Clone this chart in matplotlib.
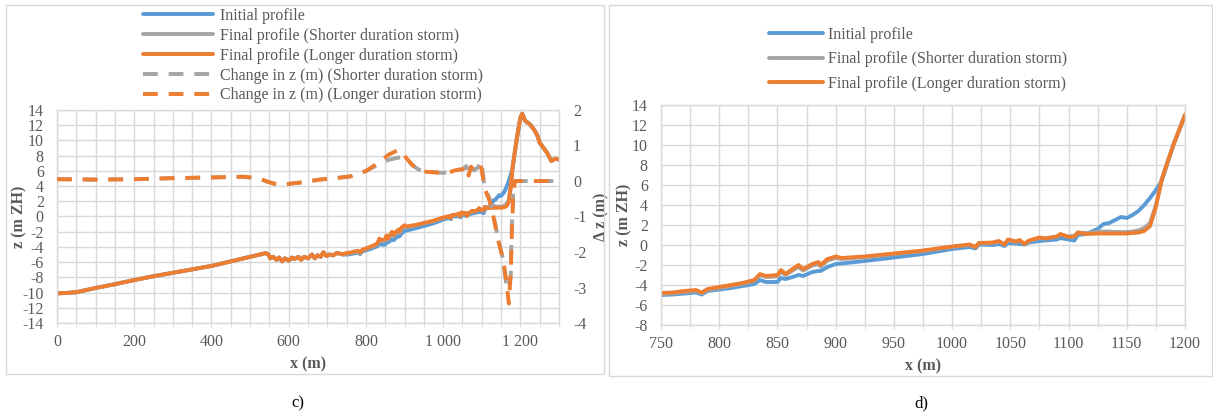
import matplotlib
matplotlib.use("Agg")
import matplotlib.pyplot as plt
from matplotlib.patches import Rectangle
from matplotlib.ticker import MultipleLocator

plt.rcParams['font.family'] = ['Liberation Serif', 'DejaVu Serif']
plt.rcParams['axes.unicode_minus'] = False

# ---------------- data ----------------
x_prof = [0, 25, 50, 100, 150, 200, 250, 300, 350, 400, 450, 500, 530, 540, 548, 552, 560,
          568, 575, 583, 590, 600, 608, 615, 625, 632, 640, 650, 660, 668, 675, 683, 690,
          698, 705, 715, 725, 740, 750, 760, 770, 780, 785, 790, 800, 810, 820, 830, 835,
          840, 850, 853, 857, 863, 868, 872, 880, 885, 887, 893, 900, 905, 925, 950, 975,
          1000, 1015, 1020, 1023, 1035, 1040, 1045, 1048, 1055, 1058, 1062, 1066, 1075,
          1080, 1090, 1093, 1100, 1105, 1108, 1115, 1125, 1130, 1135, 1140, 1145, 1150,
          1155, 1160, 1165, 1170, 1175, 1180, 1185, 1190, 1195, 1200, 1205, 1212, 1225,
          1237, 1245, 1250, 1260, 1270, 1280, 1290, 1300]

z_initial = [-10.1, -10.05, -9.95, -9.4, -8.9, -8.35, -7.85, -7.4, -6.95, -6.5, -5.9, -5.3,
             -4.95, -4.8, -5.0, -5.5, -5.3, -5.7, -5.4, -5.9, -5.5, -5.8, -5.4, -5.6, -5.3,
             -5.7, -5.3, -5.5, -5.0, -5.5, -5.1, -5.3, -4.7, -5.2, -5.0, -5.1, -4.8, -5.0,
             -5.0, -4.95, -4.85, -4.75, -4.95, -4.6, -4.45, -4.3, -4.1, -3.9, -3.5, -3.7,
             -3.7, -3.3, -3.4, -3.2, -3.0, -3.1, -2.7, -2.6, -2.6, -2.2, -1.9, -1.85, -1.6,
             -1.25, -0.9, -0.4, -0.2, -0.35, 0.05, 0.0, 0.1, -0.1, 0.2, 0.15, 0.1, 0.05,
             0.25, 0.4, 0.45, 0.55, 0.7, 0.55, 0.45, 1.0, 1.1, 1.6, 2.1, 2.2, 2.5, 2.8, 2.7,
             3.0, 3.4, 4.0, 4.7, 5.5, 6.4, 8.2, 10.0, 11.5, 13.0, 13.5, 12.6, 12.1, 11.3,
             10.5, 9.7, 9.0, 8.3, 7.3, 7.6, 7.5]

z_final_short = [-10.1, -10.05, -9.95, -9.4, -8.9, -8.35, -7.85, -7.4, -6.95, -6.5, -5.9,
                 -5.3, -4.95, -4.8, -5.0, -5.5, -5.3, -5.7, -5.4, -5.9, -5.5, -5.8, -5.4,
                 -5.6, -5.3, -5.7, -5.3, -5.5, -5.0, -5.5, -5.1, -5.3, -4.7, -5.2, -5.0,
                 -5.1, -4.8, -5.0, -4.9, -4.85, -4.7, -4.6, -4.85, -4.5, -4.3, -4.1, -3.9,
                 -3.6, -3.0, -3.2, -3.15, -2.7, -3.0, -2.55, -2.2, -2.55, -2.05, -1.9, -2.15,
                 -1.55, -1.3, -1.4, -1.2, -0.9, -0.6, -0.2, 0.0, -0.2, 0.15, 0.2, 0.35, 0.05,
                 0.5, 0.3, 0.45, 0.1, 0.4, 0.7, 0.65, 0.85, 1.05, 0.85, 0.9, 1.25, 1.2, 1.3,
                 1.35, 1.35, 1.3, 1.3, 1.3, 1.35, 1.45, 1.7, 2.2, 4.0, 6.6, 8.3, 10.0, 11.5,
                 13.0, 13.5, 12.6, 12.1, 11.3, 10.5, 9.7, 9.0, 8.3, 7.3, 7.6, 7.5]

z_final_long = [-10.1, -10.05, -9.95, -9.4, -8.9, -8.35, -7.85, -7.4, -6.95, -6.5, -5.9,
                -5.3, -4.95, -4.8, -5.0, -5.5, -5.3, -5.7, -5.4, -5.9, -5.5, -5.8, -5.4,
                -5.6, -5.3, -5.7, -5.3, -5.5, -5.0, -5.5, -5.1, -5.3, -4.7, -5.2, -5.0,
                -5.1, -4.8, -4.95, -4.8, -4.75, -4.6, -4.5, -4.75, -4.4, -4.2, -4.0, -3.8,
                -3.5, -2.9, -3.1, -3.0, -2.5, -2.9, -2.4, -2.0, -2.4, -1.9, -1.7, -2.0,
                -1.4, -1.15, -1.3, -1.15, -0.85, -0.55, -0.15, 0.05, -0.2, 0.2, 0.25, 0.4,
                0.05, 0.55, 0.35, 0.5, 0.1, 0.45, 0.75, 0.65, 0.85, 1.1, 0.8, 0.85, 1.25,
                1.1, 1.15, 1.15, 1.15, 1.15, 1.15, 1.15, 1.2, 1.25, 1.4, 1.9, 3.8, 6.5, 8.3,
                10.0, 11.5, 13.0, 13.5, 12.6, 12.1, 11.3, 10.5, 9.7, 9.0, 8.3, 7.3, 7.6, 7.5]

x_change = [0, 100, 200, 300, 400, 480, 520, 540, 560, 580, 600, 640, 680, 720, 760, 800,
            830, 860, 885, 895, 905, 920, 935, 956, 1000, 1020, 1034, 1050, 1060, 1066, 1072,
            1080, 1090, 1097, 1100, 1107, 1120, 1130, 1142, 1155, 1165, 1170, 1175, 1178,
            1182, 1186, 1200, 1250, 1300]

dz_short = [0.05, 0.04, 0.05, 0.08, 0.10, 0.12, 0.08, 0.0, -0.07, -0.10, -0.08, -0.03,
            0.04, 0.08, 0.13, 0.28, 0.45, 0.60, 0.66, 0.68, 0.64, 0.45, 0.33, 0.26, 0.23,
            0.26, 0.31, 0.33, 0.42, 0.18, 0.40, 0.30, 0.38, 0.55, 0.50, -0.15, -0.50, -0.95,
            -1.60, -2.20, -3.05, -3.00, -2.70, -1.20, -0.20, 0.0, 0.0, 0.0, 0.0]

dz_long = [0.05, 0.04, 0.05, 0.08, 0.10, 0.12, 0.08, 0.0, -0.07, -0.10, -0.08, -0.03,
           0.04, 0.08, 0.13, 0.28, 0.50, 0.75, 0.88, 0.80, 0.64, 0.45, 0.33, 0.26, 0.23,
           0.26, 0.31, 0.33, 0.42, 0.15, 0.40, 0.30, 0.35, 0.45, 0.30, -0.20, -0.55, -1.00,
           -1.65, -2.20, -2.90, -3.45, -2.60, -1.40, -0.30, 0.0, 0.0, 0.0, 0.0]

labels = ['Initial profile', 'Final profile (Shorter duration storm)',
          'Final profile (Longer duration storm)',
          'Change in z (m) (Shorter duration storm)',
          'Change in z (m) (Longer duration storm)']

xticks_c = [0, 200, 400, 600, 800, 1000, 1200]
xticklabels_c = ['0', '200', '400', '600', '800', '1 000', '1 200']
xticks_d = [750, 800, 850, 900, 950, 1000, 1050, 1100, 1150, 1200]

BLUE = '#5B9BD5'
GREY = '#A5A5A5'
ORANGE = '#ED7D31'
GRID = '#D9D9D9'
TXT = '#595959'

W, H = 1213, 417
fig = plt.figure(figsize=(W / 100, H / 100), dpi=100)


def fx(px):
    return px / W


def fy(py):
    return 1 - py / H


# panel frames
fig.patches.append(Rectangle((fx(6), fy(374)), fx(598), 369 / H, transform=fig.transFigure,
                             fill=False, edgecolor=GRID, linewidth=1.0))
fig.patches.append(Rectangle((fx(609), fy(376)), fx(603), 371 / H, transform=fig.transFigure,
                             fill=False, edgecolor=GRID, linewidth=1.0))

FS = 11.5
LW = 2.8
DASH = (3.8, 2.8)


def style_axes(ax):
    for s in ax.spines.values():
        s.set_color(GRID)
        s.set_linewidth(1.0)
    ax.grid(True, which='both', color=GRID, linewidth=1.0)
    ax.set_axisbelow(True)
    ax.tick_params(axis='both', which='both', colors=TXT, labelsize=FS, length=0)
    ax.tick_params(axis='x', which='both', length=3, color=GRID, pad=5)
    ax.tick_params(axis='y', pad=9.5)


# ---------------- panel c ----------------
axc = fig.add_axes([fx(57), fy(323), fx(559 - 57), (323 - 110) / H])
style_axes(axc)
l1, = axc.plot(x_prof, z_initial, color=BLUE, lw=LW, solid_capstyle='round', label=labels[0])
l2, = axc.plot(x_prof, z_final_short, color=GREY, lw=LW, solid_capstyle='round', label=labels[1])
l3, = axc.plot(x_prof, z_final_long, color=ORANGE, lw=LW, solid_capstyle='round', label=labels[2])
axc.set_xlim(0, 1300)
axc.set_ylim(-14, 14)
axc.set_xticks(xticks_c)
axc.set_xticklabels(xticklabels_c)
axc.xaxis.set_minor_locator(MultipleLocator(50))
axc.yaxis.set_major_locator(MultipleLocator(2))
axc.set_xlabel('x (m)', fontsize=FS, fontweight='bold', color=TXT)
axc.xaxis.set_label_coords(0.5, -0.155)
axc.set_ylabel('z (m ZH)', fontsize=FS, fontweight='bold', color=TXT)
axc.yaxis.set_label_coords(-0.058, 0.5)

axr = axc.twinx()
axr.set_ylim(-4, 2)
axr.yaxis.set_major_locator(MultipleLocator(1))
for s in axr.spines.values():
    s.set_visible(False)
axr.tick_params(axis='y', colors=TXT, labelsize=FS, length=0, pad=10)
l4, = axr.plot(x_change, dz_short, color=GREY, lw=LW, dashes=DASH, dash_capstyle='butt',
               label=labels[3])
l5, = axr.plot(x_change, dz_long, color=ORANGE, lw=LW, dashes=DASH, dash_capstyle='butt',
               label=labels[4])
axr.set_ylabel('\u0394 z (m)', fontsize=FS, fontweight='bold', color=TXT)
axr.yaxis.set_label_coords(1.068, 0.5)
axr.set_xlim(0, 1300)

fig.legend(handles=[l1, l2, l3, l4, l5], labels=labels, loc='upper left',
           bbox_to_anchor=(fx(143), fy(8)), frameon=False, fontsize=FS,
           handlelength=4.4, handletextpad=0.44, labelspacing=0.24, borderpad=0,
           borderaxespad=0, labelcolor=TXT)

# ---------------- panel d ----------------
axd = fig.add_axes([fx(661), fy(325), fx(1185 - 661), (325 - 105) / H])
style_axes(axd)
m1, = axd.plot(x_prof, z_initial, color=BLUE, lw=LW, solid_capstyle='round', label=labels[0])
m2, = axd.plot(x_prof, z_final_short, color=GREY, lw=LW, solid_capstyle='round', label=labels[1])
m3, = axd.plot(x_prof, z_final_long, color=ORANGE, lw=LW, solid_capstyle='round', label=labels[2])
axd.set_xlim(750, 1200)
axd.set_ylim(-8, 14)
axd.set_xticks(xticks_d)
axd.xaxis.set_minor_locator(MultipleLocator(25))
axd.yaxis.set_major_locator(MultipleLocator(2))
axd.set_xlabel('x (m)', fontsize=FS, fontweight='bold', color=TXT)
axd.xaxis.set_label_coords(0.5, -0.15)
axd.set_ylabel('z (m ZH)', fontsize=FS, fontweight='bold', color=TXT)
axd.yaxis.set_label_coords(-0.0553, 0.5)

fig.legend(handles=[m1, m2, m3], labels=labels[:3], loc='upper left',
           bbox_to_anchor=(fx(769), fy(27)), frameon=False, fontsize=FS,
           handlelength=3.4, handletextpad=0.3, labelspacing=0.52, borderpad=0,
           borderaxespad=0, labelcolor=TXT)

# sub-panel captions
fig.text(fx(298), fy(403), 'c)', ha='center', va='center', fontsize=12, color='black')
fig.text(fx(921), fy(403), 'd)', ha='center', va='center', fontsize=12, color='black')

fig.savefig('out.png', dpi=100)
